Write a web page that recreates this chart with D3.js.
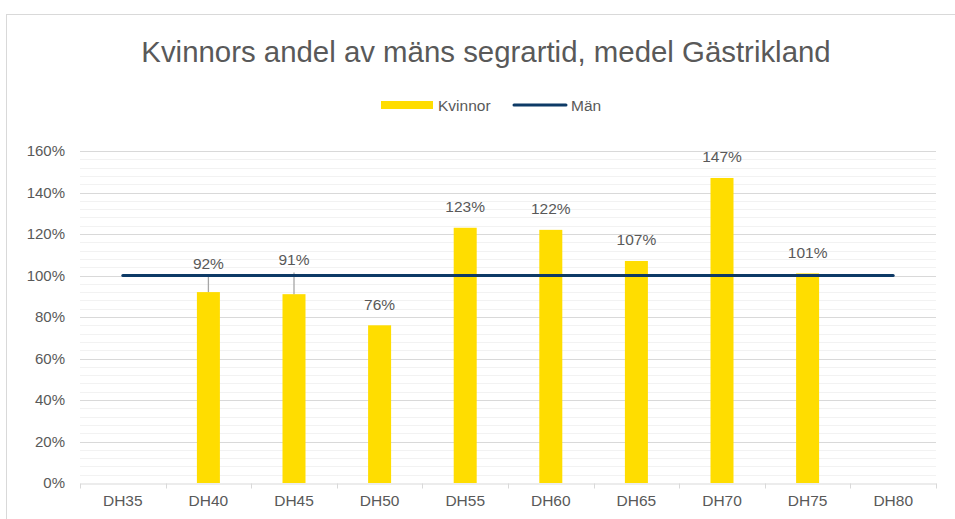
<!DOCTYPE html>
<html>
<head>
<meta charset="utf-8">
<script src="https://cdn.jsdelivr.net/npm/d3@7"></script>
<style>
  body { margin: 0; background: #fff; font-family: "Liberation Sans", Arial, sans-serif; }
  svg text { fill: #595959; }
</style>
</head>
<body>
<div id="chart"></div>
<script>
var categories = ['DH35', 'DH40', 'DH45', 'DH50', 'DH55', 'DH60', 'DH65', 'DH70', 'DH75', 'DH80']
var kvinnor = [null, 0.92, 0.91, 0.76, 1.23, 1.22, 1.07, 1.47, 1.01, null]
var man = [1, 1, 1, 1, 1, 1, 1, 1, 1, 1]
var yTicks = [0, 0.2, 0.4, 0.6, 0.8, 1.0, 1.2, 1.4, 1.6]
// Excel moved these two labels up above the line, with leader lines
var labelLift = {DH40: 0.08, DH45: 0.105}

var width = 955, height = 519
var margin = {left: 80, right: 19, top: 151, bottom: 36}

var svg = d3.select('#chart').append('svg')
  .attr('width', width).attr('height', height)

// chart frame
svg.append('rect')
  .attr('x', 6.5).attr('y', 14.5)
  .attr('width', width + 10).attr('height', height + 10)
  .attr('fill', '#fff').attr('stroke', '#d9d9d9')

svg.append('text')
  .attr('x', 486).attr('y', 62)
  .attr('text-anchor', 'middle')
  .attr('font-size', 29.4)
  .text('Kvinnors andel av mäns segrartid, medel Gästrikland')

var x = d3.scaleBand().domain(categories)
  .range([margin.left, width - margin.right])
var y = d3.scaleLinear().domain([0, 1.6])
  .range([height - margin.bottom, margin.top])

// minor grid
svg.append('g').selectAll('line')
  .data(d3.range(0, 1.6001, 0.04).filter(v => Math.round(v * 100) % 20 != 0))
  .join('line')
  .attr('x1', x.range()[0]).attr('x2', x.range()[1])
  .attr('y1', d => Math.round(y(d)) + 0.5).attr('y2', d => Math.round(y(d)) + 0.5)
  .attr('stroke', '#f2f2f2')

// major grid
svg.append('g').selectAll('line')
  .data(yTicks.slice(1))
  .join('line')
  .attr('x1', x.range()[0]).attr('x2', x.range()[1])
  .attr('y1', d => Math.round(y(d)) + 0.5).attr('y2', d => Math.round(y(d)) + 0.5)
  .attr('stroke', '#d9d9d9')

var yAxis = svg.append('g')
  .attr('transform', `translate(${margin.left - 12},0)`)
  .call(d3.axisLeft(y).tickValues(yTicks).tickFormat(d3.format('.0%')).tickSize(0))
yAxis.select('.domain').remove()
yAxis.selectAll('text').attr('font-size', 15).attr('font-family', 'Liberation Sans, Arial').attr('fill', '#595959')

var xAxis = svg.append('g')
  .attr('transform', `translate(0,${Math.round(y(0)) + 0.5})`)
  .call(d3.axisBottom(x).tickSize(0).tickPadding(11))
xAxis.select('.domain').attr('stroke', '#d9d9d9')
xAxis.selectAll('text').attr('font-size', 15.5).attr('font-family', 'Liberation Sans, Arial').attr('fill', '#595959')
// ticks at band edges
xAxis.append('g').selectAll('line')
  .data(categories.map(c => x(c)).concat([x.range()[1]]))
  .join('line')
  .attr('x1', d => Math.round(d) + 0.5).attr('x2', d => Math.round(d) + 0.5)
  .attr('y1', 0).attr('y2', 5)
  .attr('stroke', '#d9d9d9')

var barW = 23
var rows = categories.map((c, i) => ({cat: c, v: kvinnor[i], m: man[i]}))
var bars = rows.filter(d => d.v != null)

svg.append('g').selectAll('rect')
  .data(bars)
  .join('rect')
  .attr('x', d => x(d.cat) + x.bandwidth() / 2 - barW / 2)
  .attr('width', barW)
  .attr('y', d => y(d.v))
  .attr('height', d => y(0) - y(d.v))
  .attr('fill', '#ffdd00')

// leader lines
svg.append('g').selectAll('line')
  .data(bars.filter(d => labelLift[d.cat]))
  .join('line')
  .attr('x1', d => x(d.cat) + x.bandwidth() / 2).attr('x2', d => x(d.cat) + x.bandwidth() / 2)
  .attr('y1', d => y(d.v)).attr('y2', d => y(d.v + labelLift[d.cat]))
  .attr('stroke', '#a6a6a6').attr('stroke-width', 1.3)

var line = d3.line()
  .x(d => x(d.cat) + x.bandwidth() / 2)
  .y(d => y(d.m))
svg.append('path')
  .datum(rows)
  .attr('d', line)
  .attr('fill', 'none')
  .attr('stroke', '#0d3a66')
  .attr('stroke-width', 3)
  .attr('stroke-linecap', 'round')

svg.append('g').selectAll('text')
  .data(bars)
  .join('text')
  .attr('x', d => x(d.cat) + x.bandwidth() / 2)
  .attr('y', d => y(d.v + (labelLift[d.cat] || 0)) - (labelLift[d.cat] ? 7 : 15.5))
  .attr('text-anchor', 'middle')
  .attr('font-size', 15.5)
  .attr('fill', '#404040')
  .text(d => Math.round(d.v * 100) + '%')

// legend
var lg = svg.append('g').attr('transform', 'translate(381,105)')
lg.append('rect').attr('x', 0).attr('y', -4).attr('width', 52).attr('height', 8).attr('fill', '#ffdd00')
lg.append('text').attr('x', 57).attr('y', 5.5).attr('font-size', 15.5).text('Kvinnor')
lg.append('line').attr('x1', 133).attr('x2', 185).attr('y1', 0).attr('y2', 0)
  .attr('stroke', '#0d3a66').attr('stroke-width', 3).attr('stroke-linecap', 'round')
lg.append('text').attr('x', 190).attr('y', 5.5).attr('font-size', 15.5).text('Män')
</script>
</body>
</html>
